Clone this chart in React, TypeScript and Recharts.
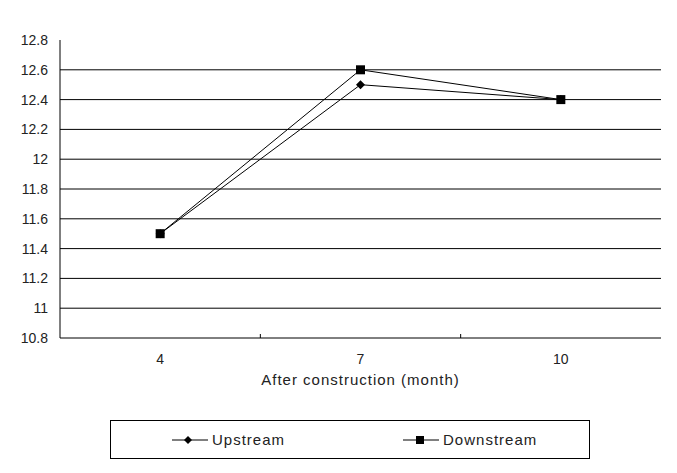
import { LineChart, Line, XAxis, YAxis, CartesianGrid, Legend } from 'recharts'

const months = [4, 7, 10]
const upstream = [11.5, 12.5, 12.4]
const downstream = [11.5, 12.6, 12.4]
const yTicks = [10.8, 11, 11.2, 11.4, 11.6, 11.8, 12, 12.2, 12.4, 12.6, 12.8]
const xTicks = [2.5, 4, 5.5, 7, 8.5, 10, 11.5]

const data = months.map((m, i) => ({ month: m, up: upstream[i], down: downstream[i] }))
const FONT = '"Liberation Sans", Arial, sans-serif'

const Diamond = (props: any) => {
  const { cx, cy } = props
  if (cx == null || cy == null) return null
  return <path d={`M${cx},${cy - 4.5}L${cx + 4.5},${cy}L${cx},${cy + 4.5}L${cx - 4.5},${cy}Z`} fill="#000" />
}
const Square = (props: any) => {
  const { cx, cy } = props
  if (cx == null || cy == null) return null
  return <rect x={cx - 4.5} y={cy - 4.5} width={9} height={9} fill="#000" />
}

const XTick = (props: any) => {
  const { x, y, payload } = props
  const v = payload.value
  if (!months.includes(v)) {
    if (v === xTicks[0] || v === xTicks[xTicks.length - 1]) return null
    return <line x1={x} x2={x} y1={y - 16} y2={y - 20} stroke="#000" />
  }
  return <text x={x} y={y} dy="0.71em" textAnchor="middle" fontSize={14} fontFamily={FONT} fill="#222">{v}</text>
}

const LegendBox = () => (
  <div style={{ width: 478, height: 37, border: '1px solid #000', display: 'flex', alignItems: 'center', fontFamily: FONT, fontSize: 15, color: '#222', background: '#fff' }}>
    <svg width={36} height={10} style={{ marginLeft: 61 }}>
      <line x1={0} x2={36} y1={5} y2={5} stroke="#000" />
      <path d="M16,1L20,5L16,9L12,5Z" fill="#000" />
    </svg>
    <span style={{ marginLeft: 4, letterSpacing: 1 }}>Upstream</span>
    <svg width={36} height={10} style={{ marginLeft: 118 }}>
      <line x1={0} x2={36} y1={5} y2={5} stroke="#000" />
      <rect x={13} y={1} width={8} height={8} fill="#000" />
    </svg>
    <span style={{ marginLeft: 4, letterSpacing: 1 }}>Downstream</span>
  </div>
)

export default function App() {
  return (
    <div style={{ position: 'absolute', left: 0, top: 0, background: '#fff' }}>
      <LineChart width={677} height={473} data={data} margin={{ top: 40, right: 16, left: 0, bottom: 75 }}>
        <CartesianGrid vertical={false} stroke="#000" horizontalValues={yTicks.slice(1, -1)} />
        <XAxis dataKey="month" type="number" domain={[2.5, 11.5]} ticks={xTicks} tick={<XTick />} tickLine={false} tickSize={6} tickMargin={10} axisLine={{ stroke: '#000' }} height={60} interval={0}
          label={{ value: 'After construction (month)', position: 'insideTop', offset: 36, fontSize: 15, fontFamily: FONT, fill: '#222', letterSpacing: 1 }} />
        <YAxis domain={[10.8, 12.8]} ticks={yTicks} interval={0} width={60} tickLine={false} tickSize={6} tickMargin={6} axisLine={{ stroke: '#000' }}
          tick={{ fontSize: 14, fontFamily: FONT, fill: '#222' }} tickFormatter={(v: number) => String(Number(v.toFixed(1)))} />
        <Legend layout="horizontal" verticalAlign="middle" align="center" content={<LegendBox />}
          wrapperStyle={{ position: 'absolute', left: 110, top: 420, width: 480, height: 39 }} />
        <Line dataKey="up" name="Upstream" stroke="#000" strokeWidth={1} dot={<Diamond />} activeDot={false} isAnimationActive={false} />
        <Line dataKey="down" name="Downstream" stroke="#000" strokeWidth={1} dot={<Square />} activeDot={false} isAnimationActive={false} />
      </LineChart>
    </div>
  )
}
